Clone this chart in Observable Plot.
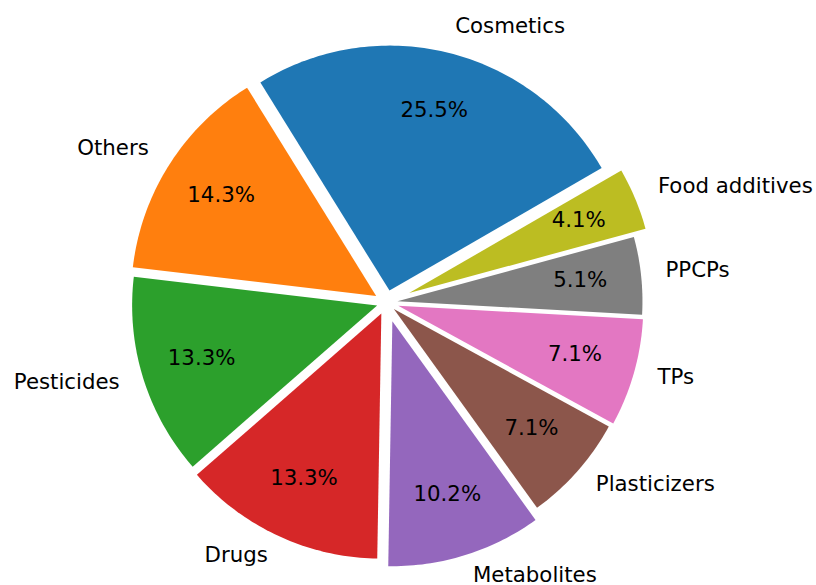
<!DOCTYPE html>
<html><head><meta charset="utf-8">
<script src="https://cdn.jsdelivr.net/npm/d3@7"></script>
<script src="https://cdn.jsdelivr.net/npm/@observablehq/plot@0.6"></script>
<style>body{margin:0;background:#fff;}</style>
</head><body><div id="chart"></div>
<script>
// Data
const categories = ["Cosmetics","Others","Pesticides","Drugs","Metabolites","Plasticizers","TPs","PPCPs","Food additives"];
const shares = [25.5,14.3,13.3,13.3,10.2,7.1,7.1,5.1,4.1];
const explode = [0.05,0.05,0.04,0.05,0.08,0.04,0.05,0.045,0.1];
const colors = ["#1f77b4","#ff7f0e","#2ca02c","#d62728","#9467bd","#8c564b","#e377c2","#7f7f7f","#bcbd22"];
const startAngle = 30;

const total = d3.sum(shares);
let acc = startAngle;
const slices = categories.map((name, i) => {
  const a0 = acc, a1 = acc + shares[i] / total * 360; acc = a1;
  const mid = (a0 + a1) / 2 * Math.PI / 180;
  const ox = explode[i] * Math.cos(mid), oy = explode[i] * Math.sin(mid);
  return {name, share: shares[i], a0, a1, mid, ox, oy,
    px: ox + 0.75 * Math.cos(mid), py: oy + 0.75 * Math.sin(mid),
    lx: ox + 1.1 * Math.cos(mid), ly: oy + 1.1 * Math.sin(mid)};
});
const outline = slices.flatMap(s => {
  const pts = [{name: s.name, x: s.ox, y: s.oy}];
  const n = Math.max(2, Math.ceil(s.a1 - s.a0));
  for (let k = 0; k <= n; k++) {
    const t = (s.a0 + (s.a1 - s.a0) * k / n) * Math.PI / 180;
    pts.push({name: s.name, x: s.ox + Math.cos(t), y: s.oy + Math.sin(t)});
  }
  return pts;
});

const R = 245, CX = 386, CY = 302, W = 816, H = 585;
const font = "DejaVu Sans";
const fs = 21.3;
const chart = Plot.plot({
  width: W, height: H, margin: 0,
  x: {domain: [-CX / R, (W - CX) / R], range: [0, W], axis: null},
  y: {domain: [-(H - CY) / R, CY / R], range: [H, 0], axis: null},
  color: {domain: categories, range: colors},
  style: {fontFamily: font, background: "#fff"},
  marks: [
    Plot.line(outline, {x: "x", y: "y", z: "name", fill: "name", stroke: "none", curve: "linear-closed"}),
    Plot.text(slices, {x: "px", y: "py", dy: -2, text: d => d.share.toFixed(1) + "%", fill: "#000", fontSize: fs, fontFamily: font}),
    Plot.text(slices.filter(d => d.lx > 0), {x: "lx", y: "ly", dy: -3, text: "name", textAnchor: "start", fill: "#000", fontSize: fs, fontFamily: font}),
    Plot.text(slices.filter(d => d.lx <= 0), {x: "lx", y: "ly", dy: -3, text: "name", textAnchor: "end", fill: "#000", fontSize: fs, fontFamily: font})
  ]
});
document.getElementById("chart").appendChild(chart);
</script>
</body></html>
